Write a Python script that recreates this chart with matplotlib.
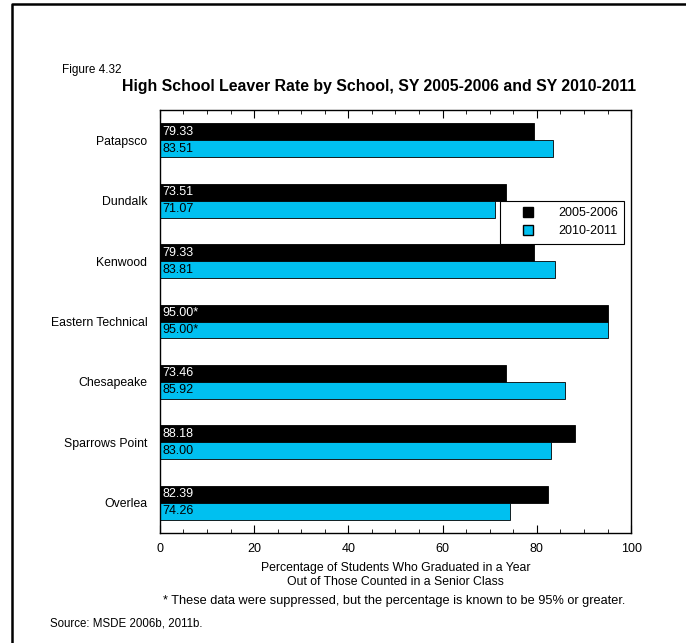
import numpy as np
import matplotlib.pyplot as plt
from matplotlib.lines import Line2D
from matplotlib.ticker import MultipleLocator

plt.rcParams['font.family'] = ['Liberation Sans', 'DejaVu Sans']

escuelas = ['Patapsco', 'Dundalk', 'Kenwood', 'Eastern Technical',
            'Chesapeake', 'Sparrows Point', 'Overlea']
val_2006 = [79.33, 73.51, 79.33, 95.00, 73.46, 88.18, 82.39]
val_2011 = [83.51, 71.07, 83.81, 95.00, 85.92, 83.00, 74.26]
etiq_2006 = ['79.33', '73.51', '79.33', '95.00*', '73.46', '88.18', '82.39']
etiq_2011 = ['83.51', '71.07', '83.81', '95.00*', '85.92', '83.00', '74.26']

fig = plt.figure(figsize=(6.86, 6.43), dpi=100)
ax = fig.add_axes([0.233, 0.171, 0.687, 0.658])

y = np.arange(len(escuelas))
h = 0.28
cian = '#00C0F0'

ax.barh(y - h / 2, val_2006, height=h, color='black', edgecolor='black',
        linewidth=0.6)
ax.barh(y + h / 2, val_2011, height=h, color=cian, edgecolor='black',
        linewidth=0.6)

for i in range(len(escuelas)):
    ax.text(0.5, y[i] - h / 2, etiq_2006[i], color='white', fontsize=9,
            va='center', ha='left')
    ax.text(0.5, y[i] + h / 2, etiq_2011[i], color='black', fontsize=9,
            va='center', ha='left')

ax.set_xlim(0, 100)
ax.set_ylim(len(escuelas) - 0.5, -0.5)
ax.set_yticks(y)
ax.set_yticklabels(escuelas, fontsize=8.8)
ax.tick_params(axis='y', length=0, pad=9)
ax.xaxis.set_major_locator(MultipleLocator(20))
ax.xaxis.set_minor_locator(MultipleLocator(5))
ax.tick_params(axis='x', which='major', direction='in', length=6, top=True,
               labelsize=9, pad=7)
ax.tick_params(axis='x', which='minor', direction='in', length=3, top=True)
for s in ax.spines.values():
    s.set_linewidth(1.0)

ax.set_xlabel('Percentage of Students Who Graduated in a Year\n'
              'Out of Those Counted in a Senior Class', fontsize=8.8,
              labelpad=5, linespacing=1.3)

# leyenda con cuadritos
manejadores = [
    Line2D([], [], linestyle='none', marker='s', markersize=6.5,
           markerfacecolor='black', markeredgecolor='black'),
    Line2D([], [], linestyle='none', marker='s', markersize=6.5,
           markerfacecolor=cian, markeredgecolor='black'),
]
leg = ax.legend(manejadores, ['2005-2006', '2010-2011'], loc='upper left',
                bbox_to_anchor=(0.722, 0.785), fontsize=9, frameon=True,
                fancybox=False, framealpha=1, edgecolor='black',
                handlelength=3.5, handletextpad=0.65, borderpad=0.5,
                labelspacing=0.5, borderaxespad=0)
leg.get_frame().set_linewidth(0.8)

fig.text(62 / 686, 1 - 70 / 643, 'Figure 4.32', fontsize=8.5, va='center')
fig.text(379 / 686, 1 - 87 / 643,
         'High School Leaver Rate by School, SY 2005-2006 and SY 2010-2011',
         fontsize=11.4, fontweight='bold', ha='center', va='center')
fig.text(394 / 686, 1 - 601 / 643,
         '* These data were suppressed, but the percentage is known to be 95% or greater.',
         fontsize=9.2, ha='center', va='center')
fig.text(50 / 686, 1 - 623 / 643, 'Source: MSDE 2006b, 2011b.', fontsize=8.3,
         va='center')

# marco de la pagina
fig.add_artist(Line2D([11.5 / 686, 11.5 / 686, 1], [0, 1 - 3.5 / 643, 1 - 3.5 / 643],
                      transform=fig.transFigure, color='black', linewidth=1.8))

fig.savefig('out.png', dpi=100)
